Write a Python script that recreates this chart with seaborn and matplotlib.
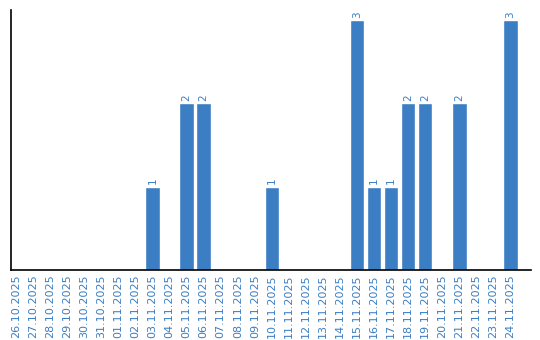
import matplotlib
matplotlib.use("Agg")
import matplotlib.pyplot as plt
import seaborn as sns
import pandas as pd

dates = ["26.10.2025", "27.10.2025", "28.10.2025", "29.10.2025", "30.10.2025",
         "31.10.2025", "01.11.2025", "02.11.2025", "03.11.2025", "04.11.2025",
         "05.11.2025", "06.11.2025", "07.11.2025", "08.11.2025", "09.11.2025",
         "10.11.2025", "11.11.2025", "12.11.2025", "13.11.2025", "14.11.2025",
         "15.11.2025", "16.11.2025", "17.11.2025", "18.11.2025", "19.11.2025",
         "20.11.2025", "21.11.2025", "22.11.2025", "23.11.2025", "24.11.2025"]
counts = [0, 0, 0, 0, 0, 0, 0, 0, 1, 0,
          2, 2, 0, 0, 0, 1, 0, 0, 0, 0,
          3, 1, 1, 2, 2, 0, 2, 0, 0, 3]

df = pd.DataFrame({"date": dates, "count": counts})
blue = "#3b7ec3"

sns.set_style("white")
fig = plt.figure(figsize=(5.4, 3.4), dpi=100)
ax = fig.add_axes([11 / 540, 1 - 270 / 340, 520 / 540, 260 / 340])
sns.barplot(data=df, x="date", y="count", color=blue, saturation=1, width=0.84, ax=ax)

for i, v in enumerate(counts):
    if v > 0:
        ax.text(i, v + 0.03, str(v), rotation=90, ha="center", va="bottom",
                fontsize=7.5, color=blue)

ax.set_xlim(-0.3, 30.2)
ax.set_ylim(0, 3.12)
ax.set_xlabel("")
ax.set_ylabel("")
ax.set_yticks([])
ax.tick_params(axis="x", length=0, pad=3, labelsize=8, labelcolor=blue)
plt.setp(ax.get_xticklabels(), rotation=90)
for s in ["top", "right"]:
    ax.spines[s].set_visible(False)
for s in ["left", "bottom"]:
    ax.spines[s].set_color("black")
    ax.spines[s].set_linewidth(1.2)

fig.savefig("out.png", dpi=100)
